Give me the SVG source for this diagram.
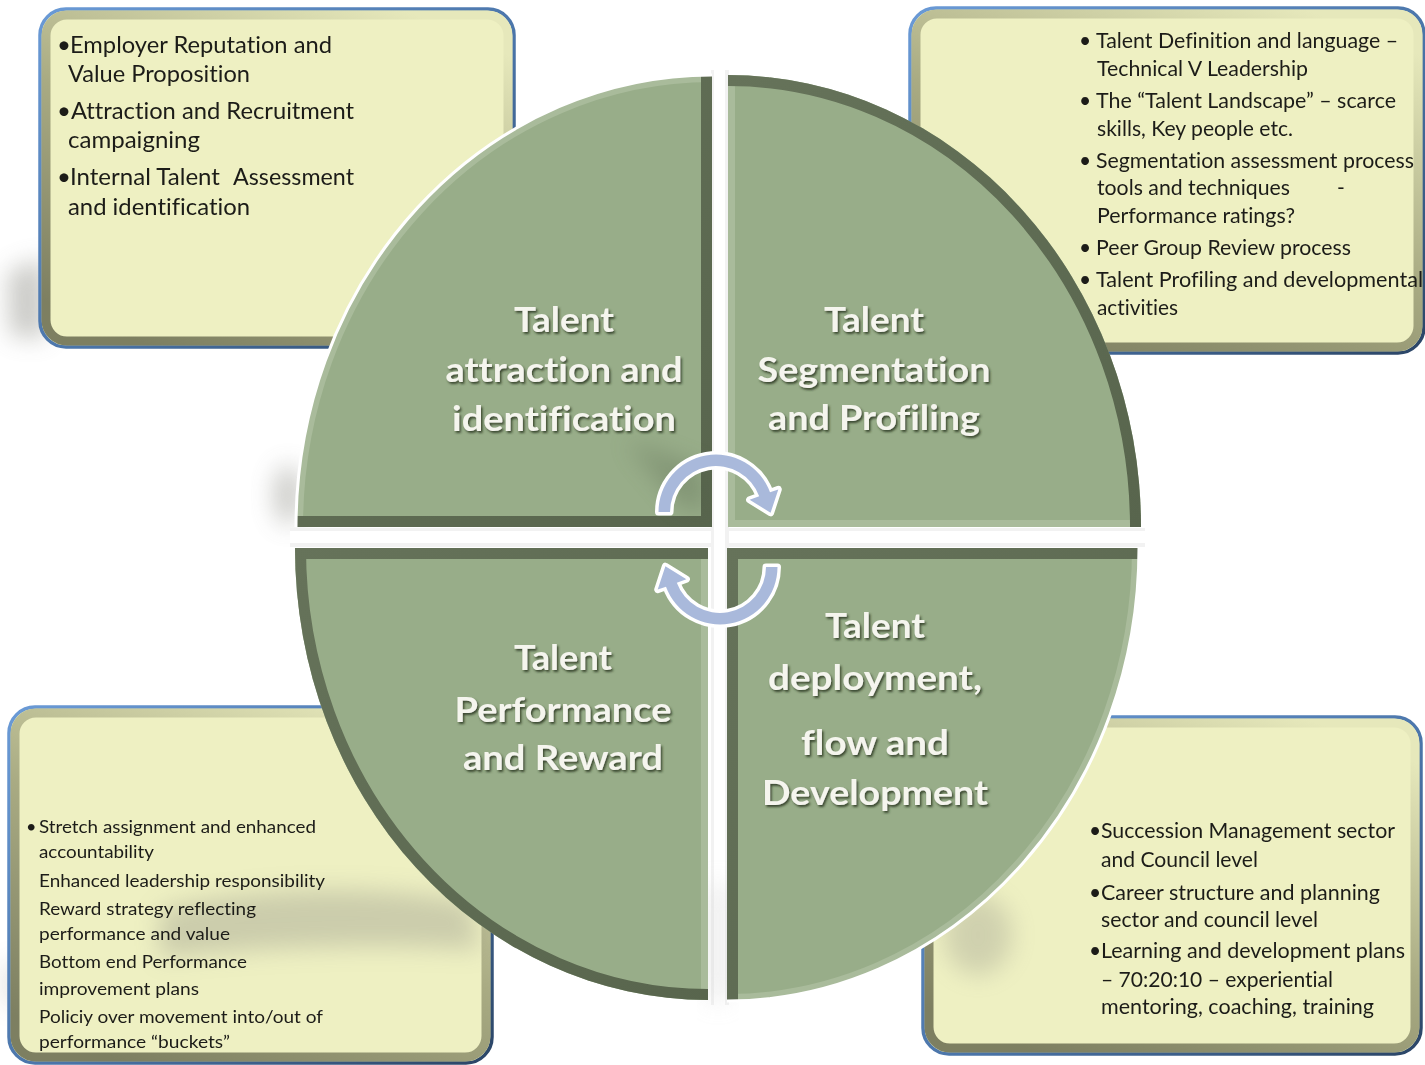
<svg xmlns="http://www.w3.org/2000/svg" xmlns:xlink="http://www.w3.org/1999/xlink" width="1425" height="1065" viewBox="0 0 1425 1065">
<defs>
<style>
.boxfill{fill:#eef0c2;stroke:url(#gBorder);stroke-width:3.5}
.boxbevel{fill:none;stroke:url(#gBevel);stroke-width:9}
.body{font-family:Lato,"Liberation Sans",sans-serif;fill:#1c1c18;font-variant-ligatures:none}
.tl{font-size:24px}
.tr{font-size:21px}
.bl{font-size:18px}
.br{font-size:21px}
.qfill{fill:#98ad89}
.qdark{fill:none;stroke:url(#gDark);stroke-width:22;stroke-linejoin:miter}
.qlight{fill:none;stroke:#a9bb9b;stroke-width:14;stroke-linejoin:miter}
.qwhite{fill:none;stroke:#ffffff;stroke-width:3}
.lbl{font-family:Lato,"Liberation Sans",sans-serif;font-weight:bold;font-size:34px;fill:#f5f5ee;text-anchor:middle;filter:url(#ts);font-variant-ligatures:none}
.arrow{fill:#a9b9db;stroke:#ffffff;stroke-width:7;stroke-linejoin:round;paint-order:stroke}
.shadow{fill:#8a8a82;filter:url(#blur)}
</style>
<linearGradient id="gBorder" x1="0" y1="0" x2="1" y2="1">
<stop offset="0" stop-color="#6a9ad6"/>
<stop offset="0.55" stop-color="#4a74a8"/>
<stop offset="1" stop-color="#2b4566"/>
</linearGradient>
<linearGradient id="gBevel" x1="0.8" y1="0" x2="0.2" y2="1">
<stop offset="0" stop-color="#e6e8bb"/>
<stop offset="0.5" stop-color="#a9ab83"/>
<stop offset="1" stop-color="#7d7f61"/>
</linearGradient>
<linearGradient id="gDark" x1="0" y1="0" x2="1" y2="1">
<stop offset="0" stop-color="#66735a"/>
<stop offset="1" stop-color="#58654d"/>
</linearGradient>
<filter id="ts" x="-10%" y="-30%" width="120%" height="160%">
<feDropShadow dx="1.5" dy="2" stdDeviation="1.2" flood-color="#2a3424" flood-opacity="0.85"/>
</filter>
<filter id="blur" x="-80%" y="-80%" width="260%" height="260%">
<feGaussianBlur stdDeviation="12"/>
</filter>
<clipPath id="cTL"><path d="M712,527 L296,527 A416,452 0 0 1 712,75 Z"/></clipPath>
<clipPath id="cTR"><path d="M728,527 L728,75 A413,452 0 0 1 1141,527 Z"/></clipPath>
<clipPath id="cBL"><path d="M708,548 L708,1000 A413,452 0 0 1 295,548 Z"/></clipPath>
<clipPath id="cBR"><path d="M727,548 L1139,548 A412,453 0 0 1 727,1001 Z"/></clipPath>
<clipPath id="cBLbox"><rect x="9" y="707" width="483" height="356" rx="26"/></clipPath>
<clipPath id="cBRbox"><rect x="923" y="717" width="498" height="337" rx="26"/></clipPath>
<path id="arrowShape" d="M658.5,512 A57.5,57.5 0 0 1 770.0,492.3 L778.3,489.4 L770.6,512.8 L749.6,499.8 L759.2,496.3 A46,46 0 0 0 670,512 Z"/>
</defs>

<rect x="0" y="0" width="1425" height="1065" fill="#ffffff"/>

<!-- background shadows -->
<g id="bg-shadows" opacity="0.45">
<path class="shadow" d="M8,272 L45,258 L46,338 L10,336 Z"/>
<ellipse class="shadow" cx="288" cy="495" rx="14" ry="30"/>
<path class="shadow" d="M4,968 L22,955 L24,1008 L4,1004 Z" opacity="0.6"/>
</g>

<!-- text boxes -->
<g id="box-tl">
<rect class="boxfill" x="40" y="9" width="474" height="338" rx="26"/>
<rect class="boxbevel" x="46" y="15" width="462" height="326" rx="21"/>
<g class="body tl">
<text x="57" y="53">•</text>
<text x="70" y="53" textLength="262" lengthAdjust="spacingAndGlyphs">Employer Reputation and</text>
<text x="68" y="82" textLength="182" lengthAdjust="spacingAndGlyphs">Value Proposition</text>
<text x="57" y="119">•</text>
<text x="71" y="119" textLength="283" lengthAdjust="spacingAndGlyphs">Attraction and Recruitment</text>
<text x="68" y="148" textLength="132" lengthAdjust="spacingAndGlyphs">campaigning</text>
<text x="57" y="185">•</text>
<text x="70" y="185" textLength="150" lengthAdjust="spacingAndGlyphs">Internal Talent</text>
<text x="233" y="185" textLength="121" lengthAdjust="spacingAndGlyphs">Assessment</text>
<text x="68" y="215" textLength="182" lengthAdjust="spacingAndGlyphs">and identification</text>
</g>
</g>

<g id="box-tr">
<rect class="boxfill" x="910" y="8" width="514" height="345" rx="26"/>
<rect class="boxbevel" x="916" y="14" width="502" height="333" rx="21"/>
<g class="body tr">
<text x="1079" y="48">•</text>
<text x="1096" y="48" textLength="302" lengthAdjust="spacingAndGlyphs">Talent Definition and language –</text>
<text x="1097" y="76" textLength="211" lengthAdjust="spacingAndGlyphs">Technical V Leadership</text>
<text x="1079" y="108">•</text>
<text x="1096" y="108" textLength="300" lengthAdjust="spacingAndGlyphs">The “Talent Landscape” – scarce</text>
<text x="1097" y="136" textLength="196" lengthAdjust="spacingAndGlyphs">skills, Key people etc.</text>
<text x="1079" y="168">•</text>
<text x="1096" y="168" textLength="318" lengthAdjust="spacingAndGlyphs">Segmentation assessment process</text>
<text x="1097" y="195" textLength="193" lengthAdjust="spacingAndGlyphs">tools and techniques</text>
<text x="1337" y="195">-</text>
<text x="1097" y="223" textLength="198" lengthAdjust="spacingAndGlyphs">Performance ratings?</text>
<text x="1079" y="255">•</text>
<text x="1096" y="255" textLength="255" lengthAdjust="spacingAndGlyphs">Peer Group Review process</text>
<text x="1079" y="287">•</text>
<text x="1096" y="287" textLength="327" lengthAdjust="spacingAndGlyphs">Talent Profiling and developmental</text>
<text x="1097" y="315" textLength="81" lengthAdjust="spacingAndGlyphs">activities</text>
</g>
</g>

<g id="box-bl">
<rect class="boxfill" x="9" y="707" width="483" height="356" rx="26"/>
<rect class="boxbevel" x="15" y="713" width="471" height="344" rx="21"/>
<path class="shadow" clip-path="url(#cBLbox)" d="M160,910 C260,885 380,885 470,902 L480,950 C380,942 250,948 160,958 Z" opacity="0.35"/>
<g class="body bl">
<text x="26" y="833">•</text>
<text x="39" y="833" textLength="277" lengthAdjust="spacingAndGlyphs">Stretch assignment and enhanced</text>
<text x="39" y="858" textLength="115" lengthAdjust="spacingAndGlyphs">accountability</text>
<text x="39" y="887" textLength="286" lengthAdjust="spacingAndGlyphs">Enhanced leadership responsibility</text>
<text x="39" y="915" textLength="217" lengthAdjust="spacingAndGlyphs">Reward strategy reflecting</text>
<text x="39" y="940" textLength="191" lengthAdjust="spacingAndGlyphs">performance and value</text>
<text x="39" y="968" textLength="208" lengthAdjust="spacingAndGlyphs">Bottom end Performance</text>
<text x="39" y="995" textLength="160" lengthAdjust="spacingAndGlyphs">improvement plans</text>
<text x="39" y="1023" textLength="284" lengthAdjust="spacingAndGlyphs">Policiy over movement into/out of</text>
<text x="39" y="1048" textLength="191" lengthAdjust="spacingAndGlyphs">performance “buckets”</text>
</g>
</g>

<g id="box-br">
<rect class="boxfill" x="923" y="717" width="498" height="337" rx="26"/>
<rect class="boxbevel" x="929" y="723" width="486" height="325" rx="21"/>
<ellipse class="shadow" clip-path="url(#cBRbox)" cx="978" cy="935" rx="34" ry="40" opacity="0.3"/>
<g class="body br">
<text x="1089" y="838">•</text>
<text x="1101" y="838" textLength="294" lengthAdjust="spacingAndGlyphs">Succession Management sector</text>
<text x="1101" y="867" textLength="157" lengthAdjust="spacingAndGlyphs">and Council level</text>
<text x="1089" y="900">•</text>
<text x="1101" y="900" textLength="279" lengthAdjust="spacingAndGlyphs">Career structure and planning</text>
<text x="1101" y="927" textLength="217" lengthAdjust="spacingAndGlyphs">sector and council level</text>
<text x="1089" y="958">•</text>
<text x="1101" y="958" textLength="304" lengthAdjust="spacingAndGlyphs">Learning and development plans</text>
<text x="1101" y="987" textLength="232" lengthAdjust="spacingAndGlyphs">– 70:20:10 – experiential</text>
<text x="1101" y="1014" textLength="273" lengthAdjust="spacingAndGlyphs">mentoring, coaching, training</text>
</g>
</g>

<!-- cross gap shading -->
<g id="cross">
<rect x="290" y="528" width="855" height="19" fill="#f2f2f2"/>
<rect x="290" y="531" width="855" height="12" fill="#ffffff"/>
<rect x="711" y="70" width="18" height="935" fill="#f2f2f2"/>
<rect x="714" y="70" width="11" height="935" fill="#ffffff"/>
<rect x="710" y="885" width="16" height="115" fill="#cfcfcf" opacity="0.5" filter="url(#blur)"/>
</g>

<!-- quadrants -->
<g id="q-tl">
<path class="qfill" d="M712,527 L296,527 A416,452 0 0 1 712,75 Z"/>
<path class="qlight" clip-path="url(#cTL)" d="M296,527 A416,452 0 0 1 712,75"/>
<path class="qdark" clip-path="url(#cTL)" d="M712,60 L712,527 L280,527"/>
<path clip-path="url(#cTL)" d="M625,440 L705,470 L705,515 L680,505 Z" fill="#4e5c44" opacity="0.3" filter="url(#blur)"/>
<path class="qwhite" d="M296,527 A416,452 0 0 1 712,75"/>
<text class="lbl" x="564" y="332" textLength="100" lengthAdjust="spacingAndGlyphs">Talent</text>
<text class="lbl" x="564" y="382" textLength="237" lengthAdjust="spacingAndGlyphs">attraction and</text>
<text class="lbl" x="564" y="431" textLength="224" lengthAdjust="spacingAndGlyphs">identification</text>
</g>

<g id="q-tr">
<path class="qfill" d="M728,527 L728,75 A413,452 0 0 1 1141,527 Z"/>
<path class="qlight" clip-path="url(#cTR)" d="M728,60 L728,527 L1150,527"/>
<path class="qdark" clip-path="url(#cTR)" d="M728,75 A413,452 0 0 1 1141,527"/>
<text class="lbl" x="874" y="332" textLength="100" lengthAdjust="spacingAndGlyphs">Talent</text>
<text class="lbl" x="874" y="382" textLength="233" lengthAdjust="spacingAndGlyphs">Segmentation</text>
<text class="lbl" x="874" y="430" textLength="212" lengthAdjust="spacingAndGlyphs">and Profiling</text>
</g>

<g id="q-bl">
<path class="qfill" d="M708,548 L708,1000 A413,452 0 0 1 295,548 Z"/>
<path class="qlight" clip-path="url(#cBL)" d="M708,540 L708,1010"/>
<path class="qdark" clip-path="url(#cBL)" d="M720,548 L295,548 A413,452 0 0 0 708,1000"/>
<text class="lbl" x="563" y="670" textLength="98" lengthAdjust="spacingAndGlyphs">Talent</text>
<text class="lbl" x="563" y="722" textLength="217" lengthAdjust="spacingAndGlyphs">Performance</text>
<text class="lbl" x="563" y="770" textLength="200" lengthAdjust="spacingAndGlyphs">and Reward</text>
</g>

<g id="q-br">
<path class="qfill" d="M727,548 L1139,548 A412,453 0 0 1 727,1001 Z"/>
<path class="qlight" clip-path="url(#cBR)" d="M1139,548 A412,453 0 0 1 727,1001"/>
<path class="qdark" clip-path="url(#cBR)" d="M727,1012 L727,548 L1150,548"/>
<path class="qwhite" d="M1139,548 A412,453 0 0 1 727,1001"/>
<text class="lbl" x="875" y="638" textLength="100" lengthAdjust="spacingAndGlyphs">Talent</text>
<text class="lbl" x="875" y="690" textLength="214" lengthAdjust="spacingAndGlyphs">deployment,</text>
<text class="lbl" x="875" y="755" textLength="148" lengthAdjust="spacingAndGlyphs">flow and</text>
<text class="lbl" x="875" y="805" textLength="226" lengthAdjust="spacingAndGlyphs">Development</text>
</g>

<!-- cycle arrows -->
<g id="connectors">
<use xlink:href="#arrowShape" href="#arrowShape" class="arrow"/>
<use xlink:href="#arrowShape" href="#arrowShape" class="arrow" transform="rotate(180 718 539.5)"/>
</g>
</svg>
